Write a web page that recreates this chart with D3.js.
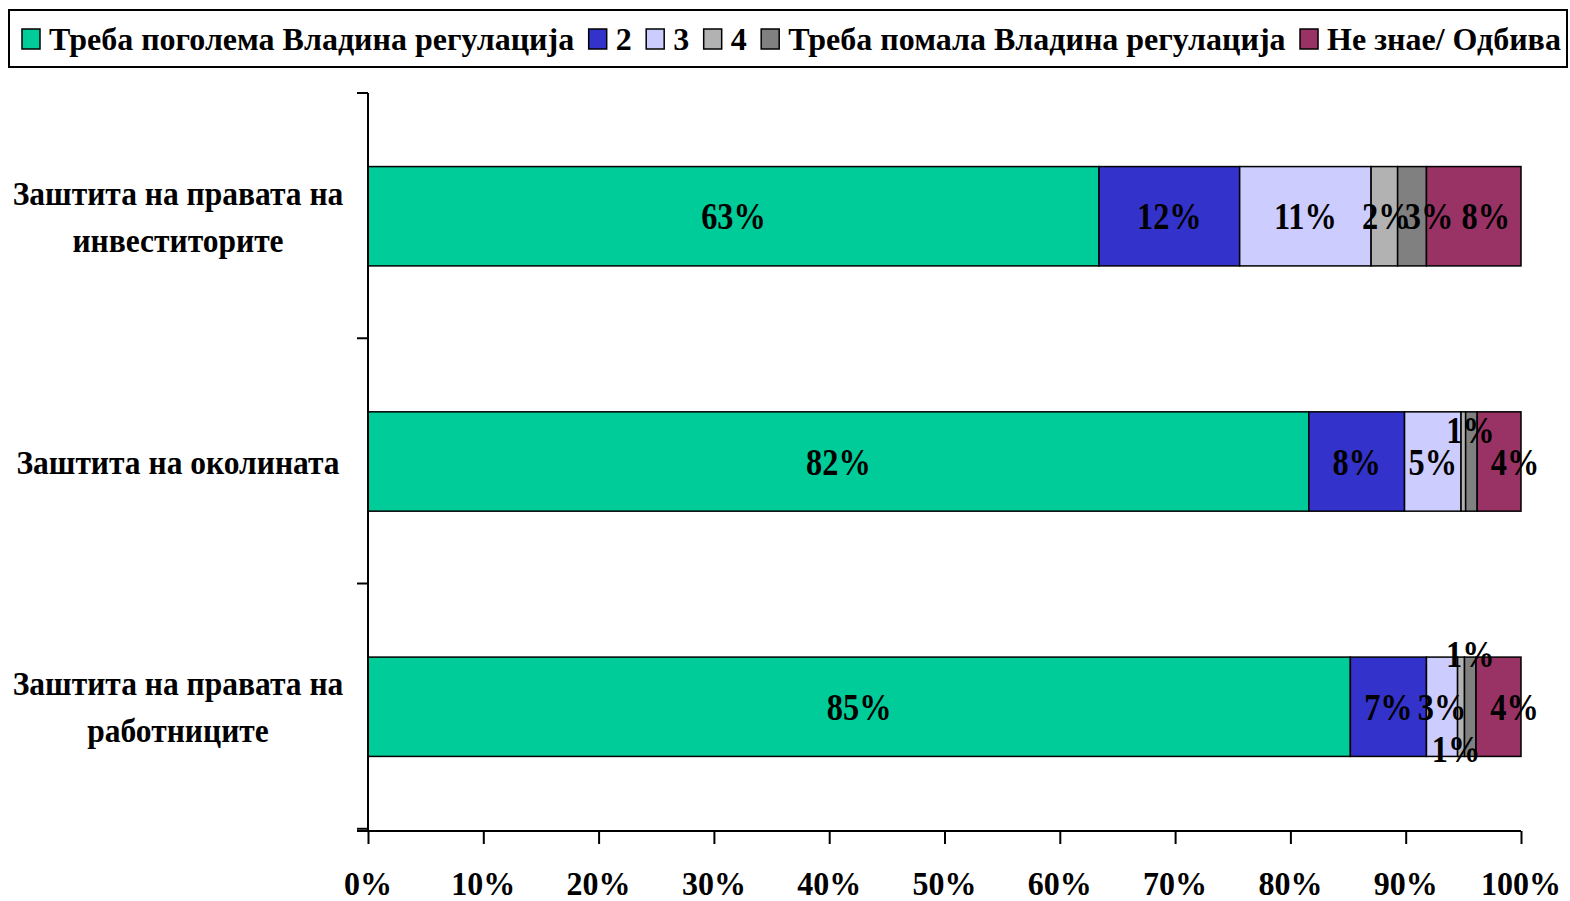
<!DOCTYPE html>
<html>
<head>
<meta charset="utf-8">
<script src="https://cdn.jsdelivr.net/npm/d3@7"></script>
<style>
  body { margin: 0; background: #fff; }
  text { font-family: "Liberation Serif", "Times New Roman", serif; font-weight: bold; fill: #000; }
</style>
</head>
<body>
<div id="chart"></div>
<script>
// data
var categories = [
    ["Заштита на правата на", "инвеститорите"],
    ["Заштита на околината"],
    ["Заштита на правата на", "работниците"]
];
var seriesNames = ["Треба поголема Владина регулација", "2", "3", "4", "Треба помала Владина регулација", "Не знае/ Одбива"];
var seriesColors = ['#00CC99', '#3333CC', '#CCCCFF', '#B2B2B2', '#808080', '#993366'];
// share per category, one array per series
var s1 = [63.4, 81.6, 85.2];
var s2 = [12.2, 8.3, 6.6];
var s3 = [11.4, 4.9, 2.7];
var s4 = [2.3, 0.4, 0.6];
var s5 = [2.5, 1.0, 1.0];
var s6 = [8.2, 3.8, 3.9];
var xTicks = [0, 10, 20, 30, 40, 50, 60, 70, 80, 90, 100];
// manual label nudges [dx, dy] per category x series
var labelNudge = [
    [[0,0],[0,0],[0,0],[2,0],[17,0],[12,0]],
    [[0,0],[0,0],[0,0],[0,0],[-1,-32],[16,0]],
    [[0,0],[0,0],[0,0],[-5,42],[0,-53],[16,0]]
];

var width = 1570, height = 901;

var svg = d3.select("#chart").append("svg")
    .attr("width", width)
    .attr("height", height);

// text squeezed horizontally like the original
function squeezedText(g, x, y, str, size, kx, anchor) {
    return g.append("text")
        .attr("transform", "translate(" + x + "," + y + ") scale(" + kx + ",1)")
        .attr("text-anchor", anchor || "middle")
        .style("font-size", size + "px")
        .text(str);
}

var series = [s1, s2, s3, s4, s5, s6];

var x = d3.scaleLinear().domain([0, 100]).range([368, 1521]);
var y = d3.scaleBand()
    .domain(d3.range(categories.length))
    .range([93, 830])
    .paddingInner(0.595)
    .paddingOuter(0.3);
var step = y.step();

// bars
var stacked = categories.map(function (c, i) {
    var acc = 0;
    return series.map(function (s, j) {
        var seg = {cat: i, ser: j, v: s[i], x0: acc, x1: acc + s[i]};
        acc += s[i];
        return seg;
    });
});

var bars = svg.append("g");
stacked.forEach(function (row) {
    bars.selectAll(null)
        .data(row)
        .enter()
        .append("rect")
        .attr("x", function (d) { return x(d.x0); })
        .attr("y", function (d) { return y(d.cat); })
        .attr("width", function (d) { return x(d.x1) - x(d.x0); })
        .attr("height", y.bandwidth())
        .style("fill", function (d) { return seriesColors[d.ser]; })
        .style("stroke", "#000")
        .style("stroke-width", 1.5);
});

// axes
var xAxis = d3.axisBottom(x)
    .tickValues(xTicks)
    .tickSize(13)
    .tickFormat("");
svg.append("g")
    .attr("transform", "translate(0,831)")
    .call(xAxis)
    .call(function (g) {
        g.select(".domain").attr("d", "M357,0H1521").style("stroke-width", 2);
        g.selectAll(".tick line").style("stroke-width", 2);
    });

var yEdges = d3.range(categories.length + 1).map(function (i) { return 93 + i * step; });
var yAxis = svg.append("g");
yAxis.append("line").attr("x1", 368).attr("x2", 368).attr("y1", 93).attr("y2", 831)
    .style("stroke", "#000").style("stroke-width", 2);
yAxis.selectAll(null).data(yEdges).enter().append("line")
    .attr("x1", 357).attr("x2", 368)
    .attr("y1", function (d) { return d; }).attr("y2", function (d) { return d; })
    .style("stroke", "#000").style("stroke-width", 2);

// x tick labels
var xl = svg.append("g");
xTicks.forEach(function (t) {
    squeezedText(xl, x(t), 895, t + "%", 33, 0.97);
});

// category labels
var cl = svg.append("g");
categories.forEach(function (lines, i) {
    var cy = y(i) + y.bandwidth() / 2;
    var lh = 47;
    lines.forEach(function (ln, k) {
        var yy = cy + 12 + (k - (lines.length - 1) / 2) * lh;
        squeezedText(cl, 178, yy, ln, 33, 0.955);
    });
});

// data labels
var dl = svg.append("g");
stacked.forEach(function (row) {
    row.forEach(function (d) {
        var r = Math.round(d.v);
        if (r === 0) return;
        var nud = labelNudge[d.cat][d.ser];
        squeezedText(dl, (x(d.x0) + x(d.x1)) / 2 + nud[0], y(d.cat) + y.bandwidth() / 2 + 13 + nud[1], r + "%", 39, 0.83);
    });
});

// legend
var lg = svg.append("g");
lg.append("rect")
    .attr("x", 9).attr("y", 10).attr("width", 1558).attr("height", 57)
    .style("fill", "#fff").style("stroke", "#000").style("stroke-width", 2);
var lx = 22;
seriesNames.forEach(function (name, j) {
    lg.append("rect")
        .attr("x", lx).attr("y", 29).attr("width", 18).attr("height", 20)
        .style("fill", seriesColors[j]).style("stroke", "#000").style("stroke-width", 1.5);
    var t = squeezedText(lg, lx + 27, 50, name, 32, 1.0, "start");
    lx += 27 + t.node().getComputedTextLength() + 14.5;
});
</script>
</body>
</html>
